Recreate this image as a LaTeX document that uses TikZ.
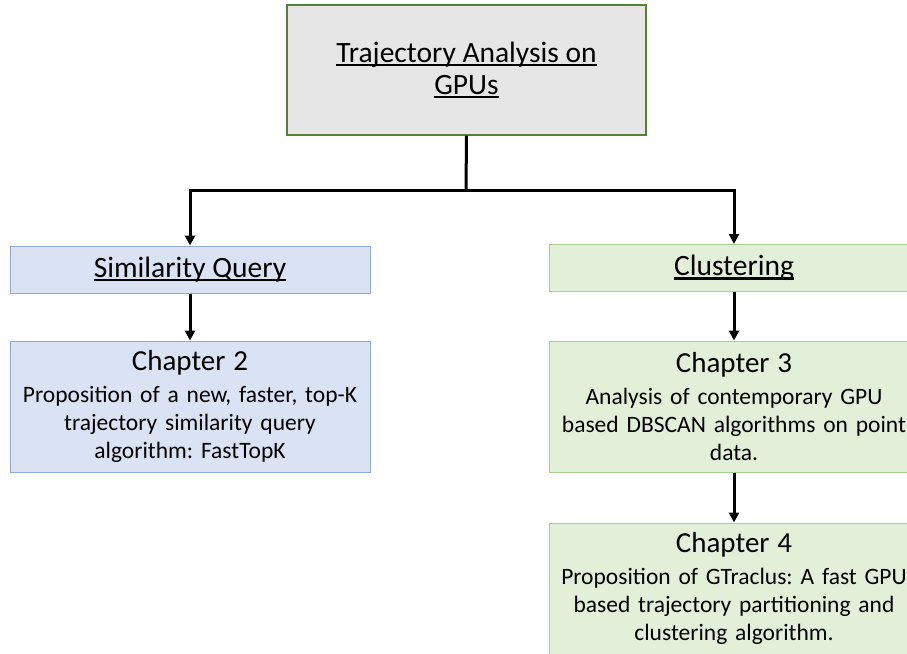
\documentclass[tikz,border=0pt]{standalone}
\usepackage{fontspec}
\setmainfont{Carlito}
\frenchspacing
\usetikzlibrary{arrows.meta, positioning}
\definecolor{titlefill}{RGB}{231, 230, 230}
\definecolor{titleedge}{RGB}{84, 130, 53}
\definecolor{queryfill}{RGB}{218, 227, 243}
\definecolor{queryedge}{RGB}{143, 170, 220}
\definecolor{clusfill}{RGB}{226, 240, 217}
\definecolor{clusedge}{RGB}{169, 209, 142}
\newcommand{\undl}[1]{\setbox0\hbox{#1}\rlap{\rule[-0.13em]{\wd0}{0.075em}}\box0}
\newcommand{\chaphead}[1]{{\fontsize{29}{33}\selectfont #1\par}\vspace{4pt}}

\begin{document}
\begin{tikzpicture}[
    x=1pt, y=-1pt,
    topbox/.style={rectangle, draw=titleedge, fill=titlefill, line width=1.4pt,
                   minimum width=359pt, minimum height=130pt, inner sep=0pt,
                   align=center, font=\fontsize{29.5}{32}\selectfont},
    headbox/.style={rectangle, line width=1pt, inner sep=0pt,
                    minimum height=47pt, align=center,
                    font=\fontsize{29.5}{33}\selectfont},
    chapbox/.style={rectangle, line width=1pt, inner sep=0pt,
                    minimum height=131pt, align=center,
                    font=\fontsize{23.5}{28}\selectfont},
    link/.style={line width=3pt, black},
    arrow/.style={link, -{Triangle[length=10pt, width=10pt]}}
]
\path[use as bounding box] (0,0) rectangle (907,653);
\clip (0,0) rectangle (907,653);

%% Root
\node[topbox] (title) at (466.5, 70) {\undl{Trajectory Analysis on}\\\undl{GPUs}};

%% Branch headings
\node[headbox, draw=queryedge, fill=queryfill, minimum width=360pt]
      (simq) at (190, 269.5) {\undl{Similarity Query}};
\node[headbox, draw=clusedge, fill=clusfill, minimum width=370pt]
      (clus) at (734, 268) {\undl{Clustering}};

%% Chapters
\node[chapbox, draw=queryedge, fill=queryfill, minimum width=360pt, text width=352pt]
      (ch2) at (190, 406.5)
      {\chaphead{Chapter 2}Proposition of a new, faster, top-K\\
       trajectory similarity query\\ algorithm: FastTopK};
\node[chapbox, draw=clusedge, fill=clusfill, minimum width=370pt, text width=362pt]
      (ch3) at (734, 406.5)
      {\chaphead{Chapter 3}Analysis of contemporary GPU\\
       based DBSCAN algorithms on point\\ data.};
\node[chapbox, draw=clusedge, fill=clusfill, minimum width=370pt, text width=362pt]
      (ch4) at (734, 588.5)
      {\chaphead{Chapter 4}Proposition of GTraclus: A fast GPU\\
       based trajectory partitioning and\\ clustering algorithm.};

%% Connectors
\coordinate (split) at (466, 190);
\draw[link]  (title.south) -- (split);
\draw[arrow] (split) -| (simq.north);
\draw[arrow] (split) -| (clus.north);
\draw[arrow] (simq) -- (ch2);
\draw[arrow] (clus) -- (ch3);
\draw[arrow] (ch3) -- (ch4);

\end{tikzpicture}
\end{document}
